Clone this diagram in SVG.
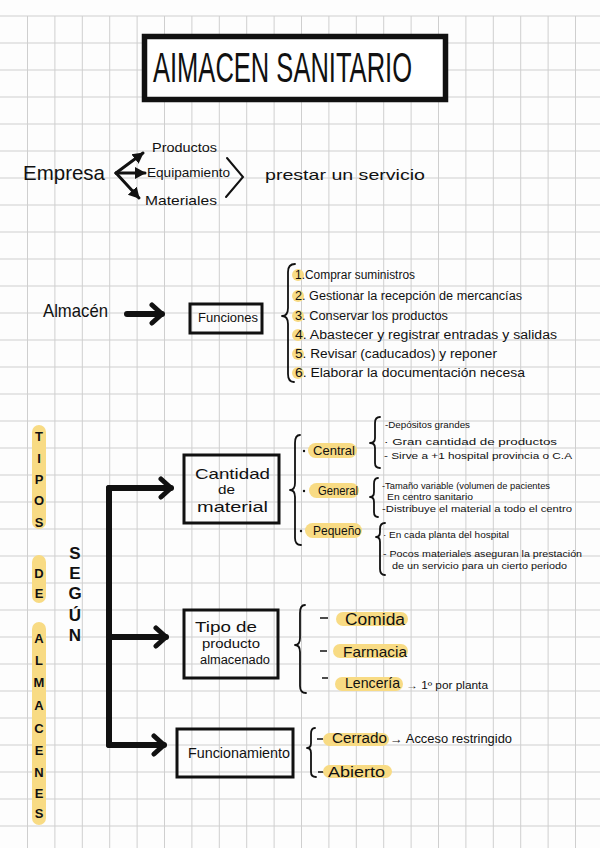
<svg xmlns="http://www.w3.org/2000/svg" width="600" height="848" viewBox="0 0 600 848">
<style>
text{font-family:"Liberation Sans","DejaVu Sans",sans-serif;fill:#111}
.grid{stroke:#cfcfcf;stroke-width:1;fill:none}
.box{fill:none;stroke:#111;stroke-width:3}
.brace{fill:none;stroke:#111;stroke-width:1.8;stroke-linecap:round;stroke-linejoin:round}
.hl{fill:#f8db84}
.thick{fill:none;stroke:#111;stroke-width:6;stroke-linecap:round;stroke-linejoin:round}
.thin{fill:none;stroke:#111;stroke-width:3;stroke-linecap:round}
.v{font-weight:bold;font-size:13px;text-anchor:middle}
.s{font-weight:bold;font-size:17px;text-anchor:middle}
.li{font-size:12px}
.sub{font-size:9.5px}
.big{font-size:15px}
</style>
<defs>
<marker id="chev" markerUnits="userSpaceOnUse" markerWidth="20" markerHeight="24" refX="14" refY="12" orient="auto">
<path d="M4 3 L14 12 L4 21" fill="none" stroke="#111" stroke-width="5" stroke-linecap="round" stroke-linejoin="round"/>
</marker>
<marker id="tri" markerUnits="userSpaceOnUse" markerWidth="14" markerHeight="14" refX="10" refY="7" orient="auto">
<path d="M0 1 L11 7 L0 13 Z" fill="#111"/>
</marker>
</defs>
<rect width="600" height="848" fill="#fdfdfd"/>
<path class="grid" d="M0 16H600M0 43H600M0 70H600M0 97H600M0 124H600M0 151H600M0 178H600M0 205H600M0 232H600M0 259H600M0 286H600M0 313H600M0 340H600M0 367H600M0 394H600M0 421H600M0 448H600M0 475H600M0 502H600M0 529H600M0 556H600M0 583H600M0 610H600M0 637H600M0 664H600M0 691H600M0 718H600M0 745H600M0 772H600M0 799H600M0 826H600
M27.5 16V848M54.9 16V848M82.3 16V848M109.7 16V848M137.1 16V848M164.5 16V848M191.9 16V848M219.3 16V848M246.7 16V848M274.1 16V848M301.5 16V848M328.9 16V848M356.3 16V848M383.7 16V848M411.1 16V848M438.5 16V848M465.9 16V848M493.3 16V848M520.7 16V848M548.1 16V848M575.5 16V848"/>

<g id="title">
<rect x="144.5" y="36.5" width="301" height="63" fill="#fff" stroke="#111" stroke-width="5.5"/>
<text x="153" y="82" font-size="42" textLength="259" lengthAdjust="spacingAndGlyphs">AIMACEN SANITARIO</text>
</g>

<g id="empresa"><text x="23" y="180" font-size="21" textLength="82" lengthAdjust="spacingAndGlyphs">Empresa</text></g>
<g id="productos"><text x="152" y="152" font-size="13" textLength="65" lengthAdjust="spacingAndGlyphs">Productos</text></g>
<g id="equipamiento"><text x="147" y="177" font-size="13" textLength="83" lengthAdjust="spacingAndGlyphs">Equipamiento</text></g>
<g id="materiales"><text x="145" y="205" font-size="13" textLength="72" lengthAdjust="spacingAndGlyphs">Materiales</text></g>
<g id="chevron"><path d="M227 158 L243 177 L226 197" fill="none" stroke="#111" stroke-width="2" stroke-linecap="round"/></g>
<g id="prestar"><text x="265" y="180" font-size="15" textLength="160" lengthAdjust="spacingAndGlyphs">prestar un servicio</text></g>

<g id="almacen"><text x="43" y="317" font-size="19" textLength="65" lengthAdjust="spacingAndGlyphs">Almacén</text></g>
<g id="funciones">
<rect class="box" x="190" y="304" width="72" height="29"/>
<text x="198" y="322" font-size="13" textLength="60" lengthAdjust="spacingAndGlyphs">Funciones</text>
</g>

<g id="lista-funciones">
<path class="brace" d="M295 264 Q288 264 288 272 L288 308 Q288 316 282 316 Q288 316 288 324 L288 374 Q288 382 294 382"/>
<circle class="hl" cx="298" cy="275" r="6"/>
<circle class="hl" cx="298" cy="296" r="6"/>
<circle class="hl" cx="298" cy="316" r="6"/>
<circle class="hl" cx="298" cy="335" r="6"/>
<circle class="hl" cx="298" cy="354" r="6"/>
<circle class="hl" cx="298" cy="373" r="6"/>
<text class="li" x="295" y="279" textLength="120" lengthAdjust="spacingAndGlyphs">1.Comprar suministros</text>
<text class="li" x="295" y="300" textLength="227" lengthAdjust="spacingAndGlyphs">2. Gestionar la recepción de mercancías</text>
<text class="li" x="295" y="320" textLength="153" lengthAdjust="spacingAndGlyphs">3. Conservar los productos</text>
<text class="li" x="295" y="339" textLength="262" lengthAdjust="spacingAndGlyphs">4. Abastecer y registrar entradas y salidas</text>
<text class="li" x="295" y="358" textLength="202" lengthAdjust="spacingAndGlyphs">5. Revisar (caducados) y reponer</text>
<text class="li" x="295" y="377" textLength="230" lengthAdjust="spacingAndGlyphs">6. Elaborar la documentación necesa</text>
</g>

<g id="tipos-de-almacenes">
<rect class="hl" x="32" y="425" width="14" height="104" rx="7"/>
<rect class="hl" x="32" y="555" width="14" height="48" rx="7"/>
<rect class="hl" x="32" y="622" width="14" height="203" rx="7"/>
<text class="v" x="39" y="441">T</text>
<text class="v" x="39" y="463">I</text>
<text class="v" x="39" y="484">P</text>
<text class="v" x="39" y="505">O</text>
<text class="v" x="39" y="527">S</text>
<text class="v" x="39" y="578">D</text>
<text class="v" x="39" y="598">E</text>
<text class="v" x="39" y="643">A</text>
<text class="v" x="39" y="665">L</text>
<text class="v" x="39" y="687">M</text>
<text class="v" x="39" y="710">A</text>
<text class="v" x="39" y="733">C</text>
<text class="v" x="39" y="755">E</text>
<text class="v" x="39" y="777">N</text>
<text class="v" x="39" y="798">E</text>
<text class="v" x="39" y="818">S</text>
</g>

<g id="segun">
<text class="s" x="75" y="559">S</text>
<text class="s" x="75" y="579">E</text>
<text class="s" x="75" y="599">G</text>
<text class="s" x="75" y="621">Ú</text>
<text class="s" x="75" y="641">N</text>
</g>

<g id="connectors">
<line class="thin" x1="116" y1="173" x2="143" y2="153" marker-end="url(#tri)"/>
<line class="thin" x1="116" y1="173" x2="145" y2="173" marker-end="url(#tri)"/>
<line class="thin" x1="116" y1="173" x2="139" y2="198" marker-end="url(#tri)"/>
<line class="thick" x1="127" y1="314" x2="162" y2="314" stroke-width="7" marker-end="url(#chev)"/>
<path class="thick" d="M109 488 L109 745"/>
<path class="thick" d="M109 488 L171 488" marker-end="url(#chev)"/>
<path class="thick" d="M109 637 L166 637" marker-end="url(#chev)"/>
<path class="thick" d="M109 745 L164 745" marker-end="url(#chev)"/>
</g>

<g id="cantidad">
<rect class="box" x="184" y="455" width="95" height="68"/>
<text x="195" y="479" font-size="15" textLength="75" lengthAdjust="spacingAndGlyphs">Cantidad</text>
<text x="218" y="494" font-size="13" textLength="17" lengthAdjust="spacingAndGlyphs">de</text>
<text x="197" y="512" font-size="15" textLength="71" lengthAdjust="spacingAndGlyphs">material</text>
</g>

<g id="cantidad-ramas">
<path class="brace" d="M300 435 Q295 435 295 443 L295 483 Q295 490 290 490 Q295 490 295 497 L295 538 Q295 545 301 545"/>
<circle cx="304" cy="451" r="1.2" fill="#111"/>
<circle cx="304" cy="491" r="1.2" fill="#111"/>
<circle cx="301" cy="531" r="1.2" fill="#111"/>
<rect class="hl" x="308" y="443" width="49" height="15" rx="7.5"/>
<rect class="hl" x="309" y="483" width="50" height="15" rx="7.5"/>
<rect class="hl" x="305" y="523" width="57" height="15" rx="7.5"/>
<text x="313" y="455" font-size="13" textLength="42" lengthAdjust="spacingAndGlyphs">Central</text>
<text x="318" y="495" font-size="13" textLength="40" lengthAdjust="spacingAndGlyphs">General</text>
<text x="313" y="535" font-size="13" textLength="48" lengthAdjust="spacingAndGlyphs">Pequeño</text>

<path class="brace" d="M380 417 Q375 417 375 423 L375 438 Q375 443 370 443 Q375 443 375 448 L375 463 Q375 468 380 468"/>
<text class="sub" x="385" y="428" textLength="85" lengthAdjust="spacingAndGlyphs">-Depósitos grandes</text>
<text class="sub" x="384" y="445" font-size="11" textLength="173" lengthAdjust="spacingAndGlyphs">· Gran cantidad de productos</text>
<text class="sub" x="384" y="459" textLength="188" lengthAdjust="spacingAndGlyphs">- Sirve a +1 hospital provincia o C.A</text>

<path class="brace" d="M378 478 Q374 478 374 484 L374 492 Q374 497 370 497 Q374 497 374 502 L374 512 Q374 517 378 517"/>
<text class="sub" x="382" y="489" font-size="8.5" textLength="168" lengthAdjust="spacingAndGlyphs">-Tamaño variable (volumen de pacientes</text>
<text class="sub" x="387" y="500" font-size="8.5" textLength="86" lengthAdjust="spacingAndGlyphs">En centro sanitario</text>
<text class="sub" x="382" y="512" font-size="8.5" textLength="190" lengthAdjust="spacingAndGlyphs">-Distribuye el material a todo el centro</text>

<path class="brace" d="M385 523 Q380 523 380 529 L380 532 Q380 537 376 537 Q380 537 380 542 L380 569 Q380 575 385 575"/>
<text class="sub" x="383" y="538" textLength="126" lengthAdjust="spacingAndGlyphs">· En cada planta del hospital</text>
<text class="sub" x="383" y="557" textLength="199" lengthAdjust="spacingAndGlyphs">- Pocos materiales aseguran la prestación</text>
<text class="sub" x="392" y="569" textLength="175" lengthAdjust="spacingAndGlyphs">de un servicio para un cierto periodo</text>
</g>

<g id="tipo-producto">
<rect class="box" x="184" y="610" width="94" height="68"/>
<text x="195" y="632" font-size="15" textLength="62" lengthAdjust="spacingAndGlyphs">Tipo de</text>
<text x="202" y="648" font-size="13" textLength="58" lengthAdjust="spacingAndGlyphs">producto</text>
<text x="200" y="664" font-size="12" textLength="70" lengthAdjust="spacingAndGlyphs">almacenado</text>
</g>

<g id="tipo-producto-ramas">
<path class="brace" d="M305 605 Q300 605 300 613 L300 638 Q300 645 295 645 Q300 645 300 652 L300 686 Q300 693 306 693"/>
<path d="M320 618 H328 M320 651 H327 M322 678 H328" stroke="#111" stroke-width="1.5"/>
<rect class="hl" x="336" y="612" width="72" height="14" rx="7"/>
<rect class="hl" x="333" y="644" width="75" height="14" rx="7"/>
<rect class="hl" x="335" y="677" width="68" height="14" rx="7"/>
<text x="345" y="625" font-size="16" textLength="60" lengthAdjust="spacingAndGlyphs">Comida</text>
<text x="343" y="657" font-size="15" textLength="64" lengthAdjust="spacingAndGlyphs">Farmacia</text>
<text x="345" y="688" font-size="15" textLength="55" lengthAdjust="spacingAndGlyphs">Lencería</text>
<text x="406" y="689" font-size="10" textLength="82" lengthAdjust="spacingAndGlyphs">→ 1º por planta</text>
</g>

<g id="funcionamiento">
<rect class="box" x="177" y="729" width="116" height="48"/>
<text x="188" y="758" font-size="15" textLength="102" lengthAdjust="spacingAndGlyphs">Funcionamiento</text>
</g>

<g id="funcionamiento-ramas">
<path class="brace" d="M315 728 Q311 728 311 734 L311 743 Q311 748 307 748 Q311 748 311 753 L311 772 Q311 777 316 777"/>
<path d="M317 739 H323 M318 772 H325" stroke="#111" stroke-width="1.5"/>
<rect class="hl" x="323" y="733" width="66" height="13" rx="6.5"/>
<rect class="hl" x="323" y="765" width="69" height="13" rx="6.5"/>
<text x="332" y="743" font-size="14" textLength="55" lengthAdjust="spacingAndGlyphs">Cerrado</text>
<text x="390" y="743" font-size="12" textLength="122" lengthAdjust="spacingAndGlyphs">→ Acceso restringido</text>
<text x="328" y="777" font-size="15" textLength="57" lengthAdjust="spacingAndGlyphs">Abierto</text>
</g>
</svg>
